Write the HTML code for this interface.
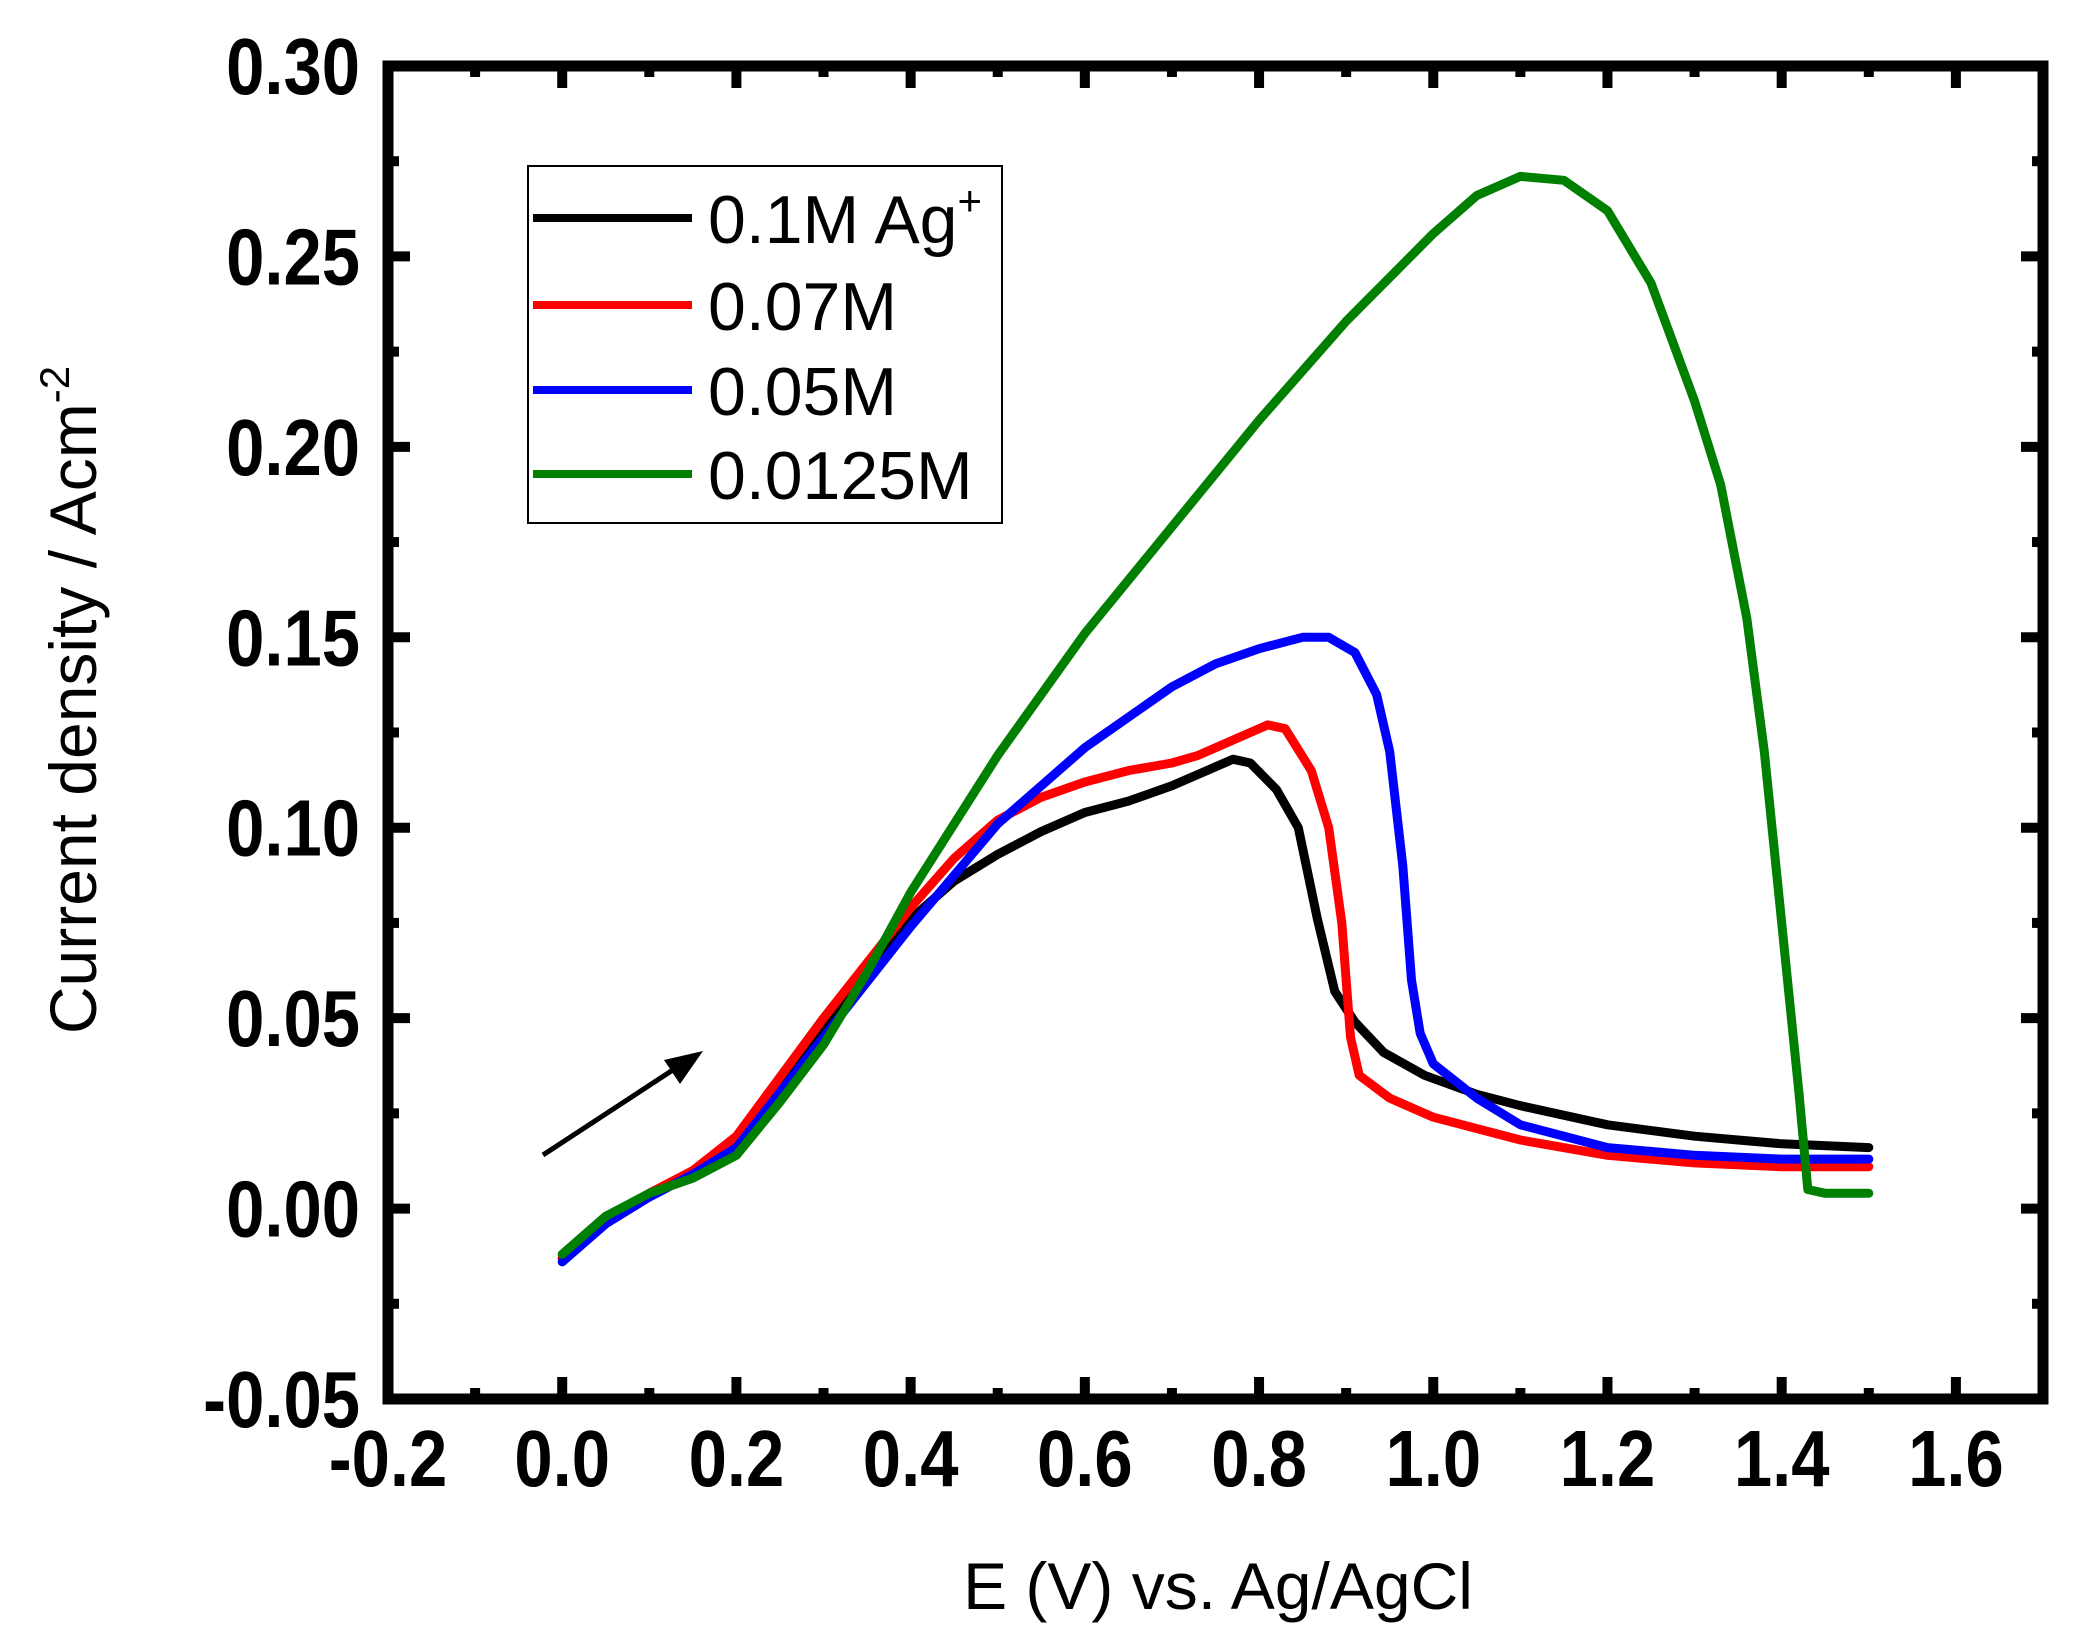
<!DOCTYPE html>
<html><head><meta charset="utf-8"><style>
html,body{margin:0;padding:0;background:#fff;}
svg{display:block;}
</style></head><body>
<svg id="chart" width="2082" height="1651" viewBox="0 0 2082 1651" xmlns="http://www.w3.org/2000/svg">
<g id="plot"></g>
</svg>
<script>
const xTicks = [-0.2,0.0,0.2,0.4,0.6,0.8,1.0,1.2,1.4,1.6];
const xTickLabels = ["-0.2","0.0","0.2","0.4","0.6","0.8","1.0","1.2","1.4","1.6"];
const yTicks = [-0.05,0.00,0.05,0.10,0.15,0.20,0.25,0.30];
const yTickLabels = ["-0.05","0.00","0.05","0.10","0.15","0.20","0.25","0.30"];
const seriesNames = ["0.1M Ag","0.07M","0.05M","0.0125M"];
const seriesColors = ["#000000","#ff0000","#0000ff","#007f00"];
const blackX = [0,0.05,0.1,0.15,0.2,0.25,0.3,0.35,0.4,0.45,0.5,0.55,0.6,0.65,0.7,0.74,0.77,0.79,0.82,0.845,0.867,0.887,0.91,0.943,0.99,1.05,1.1,1.2,1.3,1.4,1.5];
const blackY = [-0.013,-0.003,0.004,0.009,0.018,0.032,0.047,0.062,0.076,0.086,0.093,0.099,0.104,0.107,0.111,0.115,0.118,0.117,0.110,0.100,0.076,0.057,0.049,0.041,0.035,0.030,0.027,0.022,0.019,0.017,0.016];
const redX = [0,0.05,0.1,0.15,0.2,0.3,0.4,0.45,0.5,0.55,0.6,0.65,0.7,0.73,0.77,0.81,0.83,0.86,0.88,0.895,0.905,0.915,0.95,1.0,1.1,1.2,1.3,1.4,1.5];
const redY = [-0.013,-0.003,0.004,0.010,0.019,0.050,0.079,0.092,0.102,0.108,0.112,0.115,0.117,0.119,0.123,0.127,0.126,0.115,0.100,0.075,0.045,0.035,0.029,0.024,0.018,0.014,0.012,0.011,0.011];
const blueX = [0,0.05,0.1,0.15,0.2,0.3,0.4,0.5,0.6,0.7,0.75,0.8,0.85,0.88,0.91,0.935,0.95,0.965,0.975,0.985,1.0,1.05,1.1,1.2,1.3,1.4,1.5];
const blueY = [-0.014,-0.004,0.003,0.009,0.016,0.045,0.074,0.101,0.121,0.137,0.143,0.147,0.150,0.150,0.146,0.135,0.120,0.090,0.060,0.046,0.038,0.029,0.022,0.016,0.014,0.013,0.013];
const greenX = [0,0.05,0.1,0.15,0.2,0.25,0.3,0.35,0.4,0.5,0.6,0.7,0.8,0.9,1.0,1.05,1.1,1.15,1.2,1.25,1.3,1.33,1.36,1.38,1.4,1.42,1.43,1.45,1.5];
const greenY = [-0.012,-0.002,0.004,0.008,0.014,0.028,0.043,0.062,0.083,0.119,0.151,0.179,0.207,0.233,0.256,0.266,0.271,0.270,0.262,0.243,0.212,0.190,0.155,0.120,0.075,0.030,0.005,0.004,0.004];
const seriesX = [blackX, redX, blueX, greenX];
const seriesY = [blackY, redY, blueY, greenY];

const xMin=-0.2, xMax=1.7, yMin=-0.05, yMax=0.30;
const L=388, R=2043, T=66, B=1399;
function X(v){return L+(v-xMin)/(xMax-xMin)*(R-L);}
function Y(v){return B-(v-yMin)/(yMax-yMin)*(B-T);}
const NS="http://www.w3.org/2000/svg";
const g=document.getElementById('plot');
function mk(tag,attrs){const e=document.createElementNS(NS,tag);for(const k in attrs)e.setAttribute(k,attrs[k]);g.appendChild(e);return e;}

for(let s=0;s<seriesX.length;s++){
  const pts=seriesX[s].map((x,i)=>X(x).toFixed(1)+','+Y(seriesY[s][i]).toFixed(1)).join(' ');
  const p=mk('polyline',{points:pts,fill:'none',stroke:seriesColors[s],'stroke-width':9,'stroke-linejoin':'round','stroke-linecap':'round'});
  
  
}
for(let v=-0.2; v<=1.7001; v+=0.1){
  const maj=Math.abs(Math.round(v*10)%2)===0;
  const len=maj?22:11;
  const t1=mk('line',{x1:X(v),x2:X(v),y1:B,y2:B-len,stroke:'#000','stroke-width':10});
  
  
  const t2=mk('line',{x1:X(v),x2:X(v),y1:T,y2:T+len,stroke:'#000','stroke-width':10});
  
  
}
for(let k=0;k<=14;k++){
  const v=yMin+k*0.025;
  const len=(k%2===0)?22:11;
  const t1=mk('line',{x1:L,x2:L+len,y1:Y(v),y2:Y(v),stroke:'#000','stroke-width':10});
  
  
  const t2=mk('line',{x1:R,x2:R-len,y1:Y(v),y2:Y(v),stroke:'#000','stroke-width':10});
  
  
}
xTicks.forEach((v,i)=>{
  const t=mk('text',{x:0,y:0,'text-anchor':'middle','font-family':'Liberation Sans, sans-serif','font-weight':'bold','font-size':80,transform:'translate('+X(v)+',1486) scale(0.86,1)'});
  t.textContent=xTickLabels[i];
  
  
});
yTicks.forEach((v,i)=>{
  const t=mk('text',{x:0,y:0,'text-anchor':'end','font-family':'Liberation Sans, sans-serif','font-weight':'bold','font-size':80,transform:'translate(360,'+(Y(v)+28)+') scale(0.86,1)'});
  t.textContent=yTickLabels[i];
  
  
});
const fr=mk('rect',{x:L,y:T,width:R-L,height:B-T,fill:'none',stroke:'#000','stroke-width':11});


const ar=mk('line',{x1:543,y1:1155,x2:685,y2:1062,stroke:'#000','stroke-width':5});


const ah=mk('polygon',{points:'703,1051 664,1060 680,1084',fill:'#000'});


const lb=mk('rect',{x:528,y:166,width:474,height:357,fill:'#fff',stroke:'#000','stroke-width':2});


const ly=[218,305,390,474];
seriesNames.forEach((n,i)=>{
  const l=mk('line',{x1:533,x2:692,y1:ly[i],y2:ly[i],stroke:seriesColors[i],'stroke-width':8});
  
  
  const t=mk('text',{x:708,y:ly[i]+25,'font-family':'Liberation Sans, sans-serif','font-size':68});
  t.textContent=n;
  if(i===0){const ts=document.createElementNS(NS,'tspan');ts.setAttribute('dy','-28');ts.setAttribute('font-size','42');ts.textContent='+';t.appendChild(ts);}
  
  
});
const xt=mk('text',{x:1218,y:1609,'text-anchor':'middle','font-family':'Liberation Sans, sans-serif','font-size':66});
xt.textContent='E (V) vs. Ag/AgCl';


const yt=mk('text',{x:0,y:0,'text-anchor':'middle','font-family':'Liberation Sans, sans-serif','font-size':66,transform:'translate(96,700) rotate(-90)'});
yt.textContent='Current density / Acm';
const sup=document.createElementNS(NS,'tspan');sup.setAttribute('dy','-27');sup.setAttribute('font-size','42');sup.textContent='-2';yt.appendChild(sup);


</script>
</body></html>
